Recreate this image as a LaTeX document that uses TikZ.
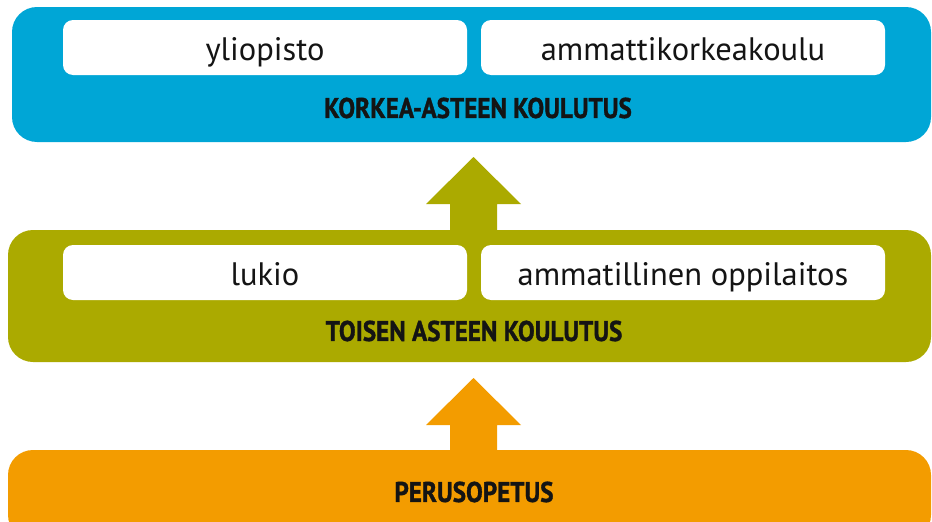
\documentclass[tikz,border=0pt]{standalone}
\usepackage{fontspec}
\setmainfont{PT Sans}
\newfontfamily\condbold[FakeStretch=0.88,FakeBold=1.2]{PT Sans Bold}
\definecolor{kblue}{RGB}{0,166,214}
\definecolor{kolive}{RGB}{171,170,0}
\definecolor{korange}{RGB}{243,156,0}
\definecolor{ktext}{RGB}{20,20,20}
\tikzset{
  band/.style={rounded corners=25pt, draw=none},
  inner/.style={fill=white, rounded corners=10pt, minimum width=404pt, minimum height=55pt, inner sep=0pt, text height=26pt, text depth=0pt, text=ktext, font=\fontsize{32.5}{38}\selectfont},
  title/.style={text=ktext, font=\condbold\fontsize{28.5}{34}\selectfont, inner sep=0pt},
  blockarrow/.style={draw=none}
}
\begin{document}
\begin{tikzpicture}[x=1pt,y=-1pt]
\useasboundingbox (0,0) rectangle (932,522);
\clip (0,0) rectangle (932,522);
% bands
\fill[band,kblue] (12,7) rectangle (931,142);
\fill[band,kolive] (8,230) rectangle (931,362);
\fill[band,korange] (8,450) rectangle (931,540);
% arrows
\fill[blockarrow,kolive] (450,232) -- (450,204) -- (426,204) -- (473.5,157) -- (521,204) -- (497,204) -- (497,232) -- cycle;
\fill[blockarrow,korange] (450,452) -- (450,425) -- (426,425) -- (473.5,378) -- (521,425) -- (497,425) -- (497,452) -- cycle;
% inner boxes
\node[inner] (yo) at (265,47.5) {yliopisto};
\node[inner] (amk) at (683,47.5) {ammattikorkeakoulu};
\node[title] (ka) at (478,108) {KORKEA-ASTEEN KOULUTUS};
\node[inner] (lu) at (265,272.5) {lukio};
\node[inner] (ao) at (683,272.5) {ammatillinen oppilaitos};
\node[title] (ta) at (474,331) {TOISEN ASTEEN KOULUTUS};
\node[title] (pe) at (474,492) {PERUSOPETUS};
\end{tikzpicture}
\end{document}
